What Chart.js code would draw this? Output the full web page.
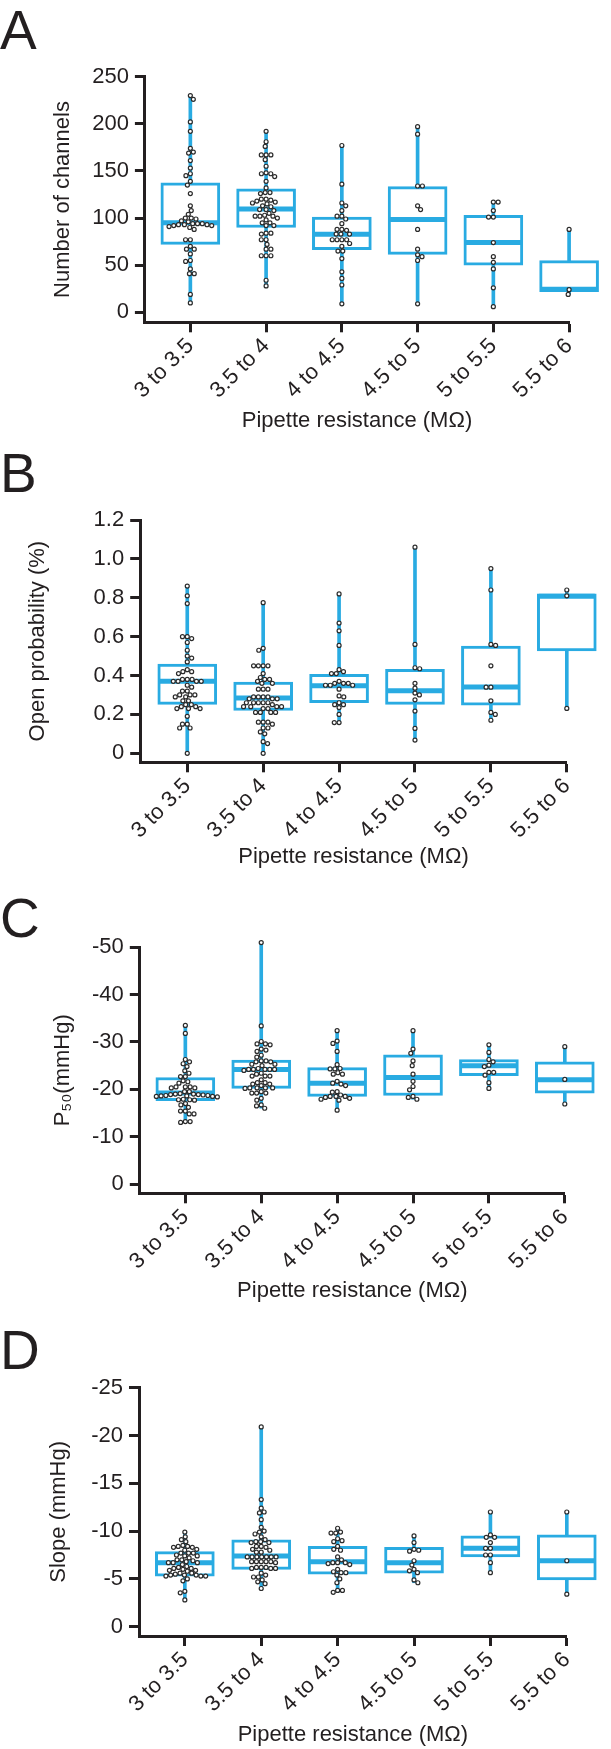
<!DOCTYPE html>
<html>
<head>
<meta charset="utf-8">
<title>Pipette resistance box plots</title>
<script src="https://cdn.jsdelivr.net/npm/chart.js@4.4.1/dist/chart.umd.min.js"></script>
<style>
  body { margin: 0; background: #fff; width: 611px; height: 1749px; overflow: hidden; position: relative;
         font-family: "Liberation Sans", Arial, Helvetica, sans-serif; }
  .letter { position: absolute; left: 0; font-size: 55px; line-height: 55px; color: #231f20; }
  canvas { position: absolute; left: 0; }
</style>
</head>
<body>
<div class="letter" style="top:3px">A</div>
<div class="letter" style="top:446px">B</div>
<div class="letter" style="top:891px">C</div>
<div class="letter" style="top:1323px">D</div>

<canvas id="chA" width="611" height="438" style="top:0px"></canvas>
<canvas id="chB" width="611" height="436" style="top:438px"></canvas>
<canvas id="chC" width="611" height="434" style="top:874px"></canvas>
<canvas id="chD" width="611" height="441" style="top:1308px"></canvas>

<script>
const groups = ['3 to 3.5', '3.5 to 4', '4 to 4.5', '4.5 to 5', '5 to 5.5', '5.5 to 6'];

// A: number of channels, one list per resistance bin
const channels = [
  [230, 226, 202, 192, 174, 170, 169, 161, 153, 147, 145, 139, 135, 126, 113, 108, 104, 100, 100, 99, 97, 96, 94, 94, 94, 93, 93, 93, 92, 92, 91, 90, 88, 77, 77, 70, 67, 67, 62, 55, 54, 46, 41, 41, 19, 10],
  [192, 181, 176, 167, 167, 167, 162, 155, 148, 147, 147, 144, 139, 132, 127, 127, 126, 120, 120, 119, 118, 117, 116, 115, 113, 112, 109, 109, 108, 105, 103, 102, 102, 102, 100, 98, 95, 95, 92, 92, 84, 84, 83, 77, 77, 72, 67, 67, 60, 60, 60, 34, 28],
  [177, 136, 116, 113, 108, 102, 102, 99, 94, 88, 88, 87, 83, 83, 83, 77, 77, 77, 77, 73, 70, 65, 65, 57, 43, 36, 29, 9],
  [197, 189, 134, 134, 113, 109, 88, 67, 61, 59, 55, 9],
  [117, 117, 108, 101, 101, 74, 59, 53, 46, 26, 6],
  [88, 24, 19]
];
// [min, q1, median, q3, max] per bin
const channelsBox = [
  [10, 72, 95, 137.5, 230],
  [28, 90, 109.5, 131, 192],
  [9, 66.4, 82.7, 101, 177],
  [9, 61.5, 98.6, 133.3, 197],
  [6, 50.1, 74.2, 102.8, 117],
  [19, 22, 24.5, 54.8, 88]
];

// B: open probability
const openProb = [
  [0.86, 0.81, 0.77, 0.60, 0.60, 0.59, 0.57, 0.53, 0.50, 0.49, 0.47, 0.43, 0.42, 0.42, 0.41, 0.38, 0.38, 0.38, 0.37, 0.37, 0.37, 0.37, 0.35, 0.34, 0.32, 0.32, 0.30, 0.30, 0.30, 0.29, 0.29, 0.27, 0.27, 0.25, 0.25, 0.24, 0.24, 0.23, 0.23, 0.23, 0.19, 0.15, 0.15, 0.13, 0.13, 0.0],
  [0.775, 0.54, 0.53, 0.45, 0.45, 0.45, 0.45, 0.41, 0.39, 0.38, 0.38, 0.37, 0.36, 0.36, 0.33, 0.33, 0.33, 0.29, 0.29, 0.29, 0.29, 0.28, 0.28, 0.28, 0.26, 0.26, 0.26, 0.26, 0.26, 0.25, 0.24, 0.24, 0.24, 0.24, 0.23, 0.23, 0.21, 0.21, 0.21, 0.21, 0.16, 0.16, 0.16, 0.15, 0.13, 0.13, 0.11, 0.10, 0.06, 0.05, 0.0],
  [0.82, 0.67, 0.63, 0.555, 0.43, 0.42, 0.41, 0.41, 0.37, 0.36, 0.36, 0.36, 0.35, 0.35, 0.35, 0.33, 0.295, 0.29, 0.26, 0.25, 0.25, 0.235, 0.2, 0.158, 0.158],
  [1.06, 0.56, 0.44, 0.435, 0.36, 0.335, 0.31, 0.30, 0.275, 0.217, 0.128, 0.068],
  [0.95, 0.84, 0.56, 0.555, 0.45, 0.34, 0.34, 0.27, 0.21, 0.20, 0.17],
  [0.84, 0.81, 0.231]
];
const openProbBox = [
  [0, 0.252, 0.371, 0.459, 0.86],
  [0, 0.22, 0.285, 0.366, 0.775],
  [0.158, 0.26, 0.348, 0.406, 0.82],
  [0.068, 0.252, 0.322, 0.432, 1.06],
  [0.17, 0.247, 0.341, 0.552, 0.95],
  [0.231, 0.526, 0.808, 0.82, 0.84]
];

// C: P50 (mmHg)
const p50 = [
  [-33.5, -31.8, -26.3, -25.8, -25.4, -24.8, -23.9, -23.4, -22.7, -22.7, -21.8, -21.6, -21.3, -20.5, -20.5, -20.5, -20.3, -20.3, -19.5, -19.5, -19.0, -19.1, -19.0, -18.9, -18.4, -18.5, -18.6, -18.6, -18.7, -18.8, -18.5, -18.7, -18.9, -17.8, -17.9, -17.7, -17.8, -17.0, -16.7, -16.2, -15.4, -15.4, -14.8, -14.8, -13.2, -13.2, -13.0],
  [-51, -33.4, -30.1, -29.6, -29.6, -29.4, -28.5, -28.3, -28, -27.2, -26.8, -26, -26, -25.8, -25.8, -25.3, -25.3, -25, -24.4, -24.2, -24.2, -24.2, -24.2, -24.2, -24, -23.4, -23.2, -22.8, -22.8, -22.8, -22, -21.4, -21.4, -21.1, -21.1, -20.8, -20.3, -20.3, -20.3, -20.3, -20.2, -19.5, -19.2, -19.2, -19.2, -18.1, -17.7, -16.7, -16.5, -16],
  [-32.4, -30.2, -29.7, -28, -25.2, -24.4, -24.3, -24.3, -23.5, -23.2, -23.2, -21.7, -21.3, -21.1, -20.8, -19.5, -19.4, -18.8, -18.5, -18.5, -18.5, -18.3, -18.1, -17.9, -17.7, -15.6],
  [-32.4, -28.5, -27.6, -26, -25, -23.2, -21.7, -20.6, -19.9, -18.5, -18.3, -17.9],
  [-29.4, -27.8, -26.3, -25.8, -25.1, -24.8, -23.6, -23.6, -23, -21.4, -20.2],
  [-29, -22.1, -16.9]
];
const p50Box = [
  [-33.5, -22.5, -19.2, -17.6, -13],
  [-51, -26.2, -24.2, -20.2, -16],
  [-32.4, -24.6, -21.3, -18.5, -15.6],
  [-32.4, -27.3, -22.5, -18.7, -17.9],
  [-29.4, -26.3, -25, -22.9, -20.2],
  [-29, -25.8, -22, -19.2, -16.9]
];

// D: slope (mmHg)
const slope = [
  [-9.9, -9.4, -9.1, -8.9, -8.5, -8.4, -8.4, -8.3, -8.3, -8.1, -8.0, -7.7, -7.7, -7.7, -7.5, -7.4, -7.4, -7.2, -7.0, -7.0, -6.9, -6.8, -6.7, -6.7, -6.7, -6.5, -6.3, -6.2, -6.1, -6.1, -6.0, -5.9, -5.9, -5.8, -5.6, -5.6, -5.5, -5.4, -5.4, -5.4, -5.3, -5.3, -5.3, -5.0, -4.8, -3.7, -3.55, -2.8],
  [-20.9, -13.3, -12.4, -12.0, -11.9, -11.2, -10.4, -10.0, -9.9, -9.7, -9.4, -9.1, -8.9, -8.9, -8.8, -8.8, -8.4, -8.4, -8.3, -8.1, -8.0, -7.8, -7.8, -7.3, -7.3, -7.3, -7.3, -7.3, -7.3, -7.3, -6.8, -6.8, -6.8, -6.8, -6.8, -6.7, -6.2, -6.2, -6.2, -6.1, -6.1, -6.1, -5.6, -5.4, -5.2, -5.2, -4.9, -4.7, -4.5, -4.0],
  [-10.3, -9.9, -9.8, -9.8, -9.2, -9.0, -8.9, -8.4, -8.1, -8.0, -7.3, -7.0, -6.7, -6.7, -6.7, -6.6, -6.5, -6.0, -5.75, -5.65, -5.65, -5.4, -5.0, -4.6, -3.8, -3.8, -3.6],
  [-9.5, -8.8, -8.1, -8.0, -7.9, -6.9, -6.45, -6.0, -5.85, -5.65, -4.9, -4.6],
  [-12.0, -9.6, -9.35, -9.35, -8.8, -8.2, -8.2, -7.5, -7.5, -6.7, -5.65],
  [-12.0, -6.9, -3.4]
];
const slopeBox = [
  [-9.9, -7.85, -6.7, -5.3, -2.8],
  [-20.9, -9.1, -7.4, -6.0, -4.0],
  [-10.3, -8.4, -6.8, -5.5, -3.6],
  [-9.5, -8.3, -6.7, -5.6, -4.6],
  [-12.0, -9.5, -8.2, -7.3, -5.65],
  [-12.0, -9.6, -6.9, -4.9, -3.4]
];

const channelTicks = [0, 50, 100, 150, 200, 250];
const probTicks = [0, 0.2, 0.4, 0.6, 0.8, 1.0, 1.2];
const p50Ticks = [0, -10, -20, -30, -40, -50];
const slopeTicks = [0, -5, -10, -15, -20, -25];

const BLUE = '#29abe2';
const INK = '#231f20';
const DOT = 4.8;   // dot spacing for the swarm, px

Chart.defaults.font.family = '"Liberation Sans", Arial, Helvetica, sans-serif';
Chart.defaults.color = INK;

// simple beeswarm: returns x offsets (px) for points at pixel heights py
function swarm(py, d) {
  const order = py.map((y, i) => i).sort((a, b) => py[a] - py[b]);
  const placed = [];
  const out = new Array(py.length).fill(0);
  let flip = 1;
  for (const i of order) {
    const y = py[i];
    const near = placed.filter(p => Math.abs(p.y - y) < d);
    const cands = [0];
    near.forEach(p => {
      const dx = Math.sqrt(d * d - (p.y - y) * (p.y - y));
      cands.push(p.x + dx, p.x - dx);
    });
    cands.sort((a, b) => (Math.abs(a) - Math.abs(b)) || (flip * (a - b)));
    const x = cands.find(c => near.every(p => (p.x - c) ** 2 + (p.y - y) ** 2 >= d * d - 0.01));
    flip = -flip;
    placed.push({ x, y });
    out[i] = x;
  }
  return out;
}

function makePanel(id, o) {
  const canvas = document.getElementById(id);
  const H = canvas.height;
  const chart = new Chart(canvas, {
    type: 'bar',
    data: {
      datasets: [
        {
          type: 'scatter', order: 0, clip: false, data: [],
          pointRadius: 2, pointBorderWidth: 1.2,
          pointBorderColor: '#2b2b2b', pointBackgroundColor: '#ffffff'
        },
        {
          type: 'scatter', order: 1, clip: false,
          data: o.box.map((b, i) => ({ x: i, y: b[2] })),
          pointStyle: 'line', pointRadius: 28, pointBorderWidth: 5, pointBorderColor: BLUE
        },
        {
          type: 'bar', order: 2, clip: false, grouped: false,
          data: o.box.map((b, i) => ({ x: i, y: [b[1], b[3]] })),
          barThickness: 59, backgroundColor: '#ffffff', borderColor: BLUE,
          borderWidth: 3, borderSkipped: false
        },
        {
          type: 'bar', order: 3, clip: false, grouped: false,
          data: o.box.map((b, i) => ({ x: i, y: [b[0], b[4]] })),
          barThickness: 3, backgroundColor: BLUE, borderWidth: 0
        }
      ]
    },
    options: {
      responsive: false,
      animation: false,
      events: [],
      layout: { padding: { left: o.padLeft, top: o.top, right: 611 - o.right, bottom: 0 } },
      plugins: { legend: { display: false }, tooltip: { enabled: false } },
      scales: {
        x: {
          type: 'linear', min: o.xMin, max: 5, offset: false,
          afterBuildTicks: s => { s.ticks = groups.map((g, i) => ({ value: i })); },
          afterFit: s => { s.height = H - o.bottom; },
          ticks: {
            autoSkip: false, maxRotation: 45, minRotation: 45, padding: 1,
            color: INK, font: { size: 22 }, callback: v => groups[v]
          },
          grid: { offset: false, drawOnChartArea: false, tickLength: 10, tickWidth: 3, tickColor: INK },
          border: { color: INK, width: 3 },
          title: {
            display: true, text: 'Pipette resistance (MΩ)', color: INK,
            font: { size: 22 }, padding: { top: 0, bottom: o.titlePad }
          }
        },
        y: {
          type: 'linear', min: o.yMin, max: o.yMax, reverse: o.reverse,
          afterBuildTicks: s => { s.ticks = o.ticks.map(v => ({ value: v })); },
          afterFit: s => { s.width = o.left - o.padLeft; },
          ticks: { padding: 6, color: INK, font: { size: 22 }, callback: o.fmt },
          grid: { drawOnChartArea: false, tickLength: 10, tickWidth: 3, tickColor: INK },
          border: { color: INK, width: 3 },
          title: { display: true, text: o.title, color: INK, font: { size: 22 }, padding: 0 }
        }
      }
    }
  });

  // spread the dots of each bin sideways, in pixels, then back to axis units
  const xs = chart.scales.x, ys = chart.scales.y;
  const perCat = Math.abs(xs.getPixelForValue(1) - xs.getPixelForValue(0));
  const pts = [];
  o.values.forEach((vals, c) => {
    const offs = swarm(vals.map(v => ys.getPixelForValue(v)), DOT);
    vals.forEach((v, k) => pts.push({ x: c + offs[k] / perCat, y: v }));
  });
  chart.data.datasets[0].data = pts;
  chart.update('none');
  return chart;
}

makePanel('chA', {
  values: channels, box: channelsBox, ticks: channelTicks, title: 'Number of channels',
  yMin: -10.6, yMax: 250, reverse: false, fmt: v => String(v),
  top: 76.7, bottom: 322.3, left: 144.9, right: 569.1, xMin: -0.6, padLeft: 49.8, titlePad: 4
});
makePanel('chB', {
  values: openProb, box: openProbBox, ticks: probTicks, title: 'Open probability (%)',
  yMin: -0.0463, yMax: 1.2, reverse: false, fmt: v => (v === 0 ? '0' : v.toFixed(1)),
  top: 82, bottom: 324.3, left: 140.2, right: 566.8, xMin: -0.62, padLeft: 24.3, titlePad: 4
});
makePanel('chC', {
  values: p50, box: p50Box, ticks: p50Ticks, title: 'P₅₀(mmHg)',
  yMin: -50, yMax: 1.96, reverse: true, fmt: v => String(v),
  top: 73.3, bottom: 319.3, left: 139.8, right: 564.8, xMin: -0.6, padLeft: 49.8, titlePad: 4
});
makePanel('chD', {
  values: slope, box: slopeBox, ticks: slopeTicks, title: 'Slope (mmHg)',
  yMin: -25, yMax: 0.97, reverse: true, fmt: v => String(v),
  top: 79.7, bottom: 328, left: 139, right: 566.8, xMin: -0.6, padLeft: 45.8, titlePad: 1
});
</script>
</body>
</html>
